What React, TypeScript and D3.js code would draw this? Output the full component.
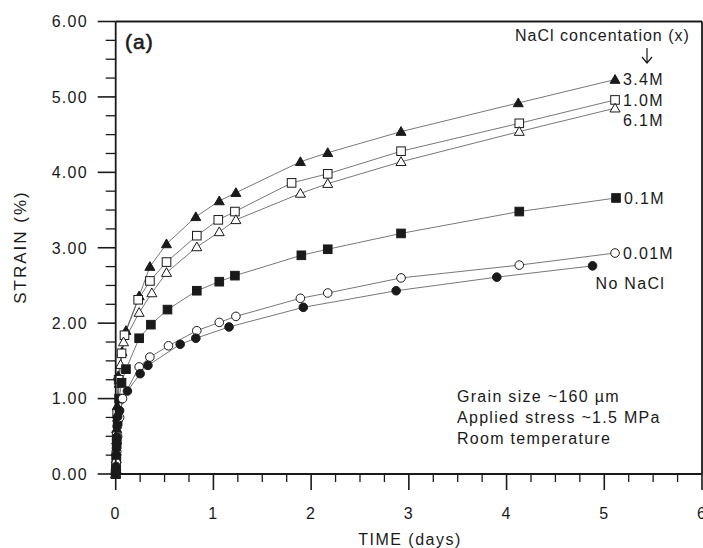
import React from "react";
import * as d3 from "d3";

const W = 703;
const H = 548;

// Series data (time in days, strain in %)
const time34 = [0, 0.003, 0.006, 0.01, 0.015, 0.025, 0.064, 0.105, 0.24, 0.35, 0.52, 0.82, 1.06, 1.23, 1.89, 2.17, 2.92, 4.12, 5.11];
const strain34 = [0, 0.1, 0.3, 0.6, 0.9, 1.3, 1.62, 1.9, 2.36, 2.75, 3.05, 3.41, 3.62, 3.73, 4.14, 4.26, 4.54, 4.92, 5.23];

const time10 = [0, 0.003, 0.006, 0.01, 0.015, 0.03, 0.06, 0.09, 0.23, 0.35, 0.52, 0.83, 1.05, 1.22, 1.8, 2.17, 2.92, 4.13, 5.11];
const strain10 = [0, 0.08, 0.25, 0.5, 0.8, 1.25, 1.6, 1.84, 2.31, 2.56, 2.81, 3.16, 3.37, 3.48, 3.86, 3.98, 4.28, 4.65, 4.96];

const time61 = [0, 0.003, 0.006, 0.01, 0.02, 0.035, 0.05, 0.08, 0.24, 0.37, 0.52, 0.83, 1.06, 1.23, 1.89, 2.17, 2.92, 4.13, 5.11];
const strain61 = [0, 0.07, 0.2, 0.45, 0.75, 1.2, 1.45, 1.75, 2.14, 2.4, 2.67, 3.01, 3.21, 3.37, 3.72, 3.85, 4.14, 4.54, 4.85];

const time01 = [0, 0.003, 0.006, 0.01, 0.02, 0.035, 0.06, 0.105, 0.24, 0.36, 0.53, 0.83, 1.06, 1.22, 1.9, 2.17, 2.92, 4.13, 5.12];
const strain01 = [0, 0.06, 0.2, 0.4, 0.7, 1.0, 1.21, 1.39, 1.8, 1.98, 2.18, 2.43, 2.55, 2.63, 2.9, 2.98, 3.19, 3.48, 3.66];

const time001 = [0, 0.003, 0.006, 0.01, 0.02, 0.04, 0.07, 0.24, 0.35, 0.54, 0.83, 1.06, 1.23, 1.89, 2.17, 2.92, 4.13, 5.11];
const strain001 = [0, 0.05, 0.15, 0.3, 0.5, 0.75, 1.0, 1.42, 1.55, 1.7, 1.9, 2.01, 2.09, 2.33, 2.4, 2.6, 2.77, 2.93];

const time0 = [0, 0.002, 0.004, 0.006, 0.008, 0.01, 0.012, 0.015, 0.02, 0.04, 0.12, 0.25, 0.33, 0.66, 0.82, 1.16, 1.92, 2.87, 3.9, 4.88];
const strain0 = [0, 0.03, 0.1, 0.25, 0.34, 0.41, 0.49, 0.63, 0.76, 0.84, 1.1, 1.33, 1.44, 1.72, 1.8, 1.95, 2.21, 2.43, 2.61, 2.76];

const seriesLabels = ["3.4M", "1.0M", "6.1M", "0.1M", "0.01M", "No NaCl"];
const xTicks = [0, 1, 2, 3, 4, 5, 6];
const yTicks = [0, 1, 2, 3, 4, 5, 6];
const noteLines = ["Grain size ~160 \u00b5m", "Applied stress ~1.5 MPa", "Room temperature"];

type Marker = "triF" | "sqO" | "triO" | "sqF" | "cirO" | "cirF";

const series: { label: string; t: number[]; s: number[]; m: Marker; dx: number; dy: number }[] = [
  { label: seriesLabels[0], t: time34, s: strain34, m: "triF", dx: 8, dy: 0 },
  { label: seriesLabels[1], t: time10, s: strain10, m: "sqO", dx: 8, dy: 0 },
  { label: seriesLabels[2], t: time61, s: strain61, m: "triO", dx: 8, dy: 12 },
  { label: seriesLabels[3], t: time01, s: strain01, m: "sqF", dx: 8, dy: 0 },
  { label: seriesLabels[4], t: time001, s: strain001, m: "cirO", dx: 8, dy: 0 },
  { label: seriesLabels[5], t: time0, s: strain0, m: "cirF", dx: 3, dy: 17 },
];

const INK = "#1a1a1a";
const FONT = "'Liberation Sans', Arial, Helvetica, sans-serif";

function MarkerShape({ m, x, y }: { m: Marker; x: number; y: number }) {
  const sw = 1;
  switch (m) {
    case "triF":
    case "triO": {
      const r = 5;
      const p = `M${x},${y - r}L${x + r},${y + r * 0.75}L${x - r},${y + r * 0.75}Z`;
      return <path d={p} fill={m === "triF" ? INK : "#fff"} stroke={INK} strokeWidth={sw} />;
    }
    case "sqF":
    case "sqO": {
      const r = 4.3;
      return <rect x={x - r} y={y - r} width={2 * r} height={2 * r} fill={m === "sqF" ? INK : "#fff"} stroke={INK} strokeWidth={sw} />;
    }
    default: {
      return <circle cx={x} cy={y} r={4.3} fill={m === "cirF" ? INK : "#fff"} stroke={INK} strokeWidth={sw} />;
    }
  }
}

export default function App() {
  const x = d3.scaleLinear().domain([0, 6]).range([115.7, 702]);
  const y = d3.scaleLinear().domain([0, 6]).range([474, 21.5]);
  const minor = d3.range(0, 6.01, 0.25).filter((v) => Math.abs(v - Math.round(v)) > 1e-6);
  const line = d3
    .line<[number, number]>()
    .x((d) => x(d[0]))
    .y((d) => y(d[1]));

  const txt = { fontFamily: FONT, fill: INK, letterSpacing: "1.3px" } as const;

  return (
    <svg width={W} height={H} style={{ position: "absolute", left: 0, top: 0, background: "#fff" }}>
      <rect x={0} y={0} width={W} height={H} fill="#fff" />
      {/* lines */}
      {series.map((s) => (
        <path
          key={"l" + s.label}
          d={line(s.t.map((t, i) => [t, s.s[i]] as [number, number])) || ""}
          fill="none"
          stroke="#555"
          strokeWidth={0.8}
        />
      ))}
      {/* markers */}
      {series.map((s) =>
        s.t.map((t, i) => <MarkerShape key={s.label + i} m={s.m} x={x(t)} y={y(s.s[i])} />)
      )}
      {/* frame */}
      <line x1={x(0)} x2={x(0)} y1={y(6)} y2={y(0)} stroke={INK} strokeWidth={1.8} />
      <line x1={x(0)} x2={x(6)} y1={y(0)} y2={y(0)} stroke={INK} strokeWidth={1.8} />
      <line x1={x(0)} x2={x(6)} y1={y(6)} y2={y(6)} stroke={INK} strokeWidth={1.8} />
      <line x1={x(6)} x2={x(6)} y1={y(6)} y2={y(0)} stroke={INK} strokeWidth={1.8} />
      {/* y ticks */}
      {yTicks.map((v) => (
        <g key={"yt" + v}>
          <line x1={x(0) - 18} x2={x(0)} y1={y(v)} y2={y(v)} stroke={INK} strokeWidth={1.6} />
          <text x={88} y={y(v)} dy="0.36em" textAnchor="end" fontSize={16} style={txt}>
            {d3.format(".2f")(v)}
          </text>
        </g>
      ))}
      {minor.map((v) => (
        <line key={"ym" + v} x1={x(0) - 10} x2={x(0)} y1={y(v)} y2={y(v)} stroke={INK} strokeWidth={1.3} />
      ))}
      {/* x ticks */}
      {xTicks.map((v) => (
        <g key={"xt" + v}>
          <line x1={x(v)} x2={x(v)} y1={y(0)} y2={y(0) + 16} stroke={INK} strokeWidth={1.6} />
          <text x={x(v)} y={513} dy="0.36em" textAnchor="middle" fontSize={16} style={txt}>
            {v}
          </text>
        </g>
      ))}
      {minor.map((v) => (
        <line key={"xm" + v} x1={x(v)} x2={x(v)} y1={y(0)} y2={y(0) + 8} stroke={INK} strokeWidth={1.3} />
      ))}
      {/* axis titles */}
      <text x={410} y={539} dy="0.36em" textAnchor="middle" fontSize={16} style={{ ...txt, letterSpacing: "1.5px" }}>
        TIME (days)
      </text>
      <text
        transform={`translate(20,${247}) rotate(-90)`}
        dy="0.36em"
        textAnchor="middle"
        fontSize={17}
        style={{ ...txt, letterSpacing: "2px" }}
      >
        STRAIN (%)
      </text>
      {/* panel label */}
      <text x={125} y={49} fontSize={21} stroke={INK} strokeWidth={0.6} style={{ fontFamily: FONT, fill: INK, letterSpacing: "1px" }}>
        (a)
      </text>
      {/* legend heading */}
      <text x={515} y={41} fontSize={16} style={{ ...txt, letterSpacing: "1px" }}>
        NaCl concentation (x)
      </text>
      <path d="M647,48V63M642,57L647,63L652,57" fill="none" stroke={INK} strokeWidth={1.2} />
      {/* series labels */}
      {series.map((s) => {
        const n = s.t.length - 1;
        return (
          <text key={"lab" + s.label} x={x(s.t[n]) + s.dx} y={y(s.s[n]) + s.dy} dy="0.36em" fontSize={16} style={txt}>
            {s.label}
          </text>
        );
      })}
      {/* notes */}
      {noteLines.map((t, i) => (
        <text key={"n" + i} x={457} y={396 + i * 21} dy="0.36em" fontSize={16} style={txt}>
          {t}
        </text>
      ))}
    </svg>
  );
}
